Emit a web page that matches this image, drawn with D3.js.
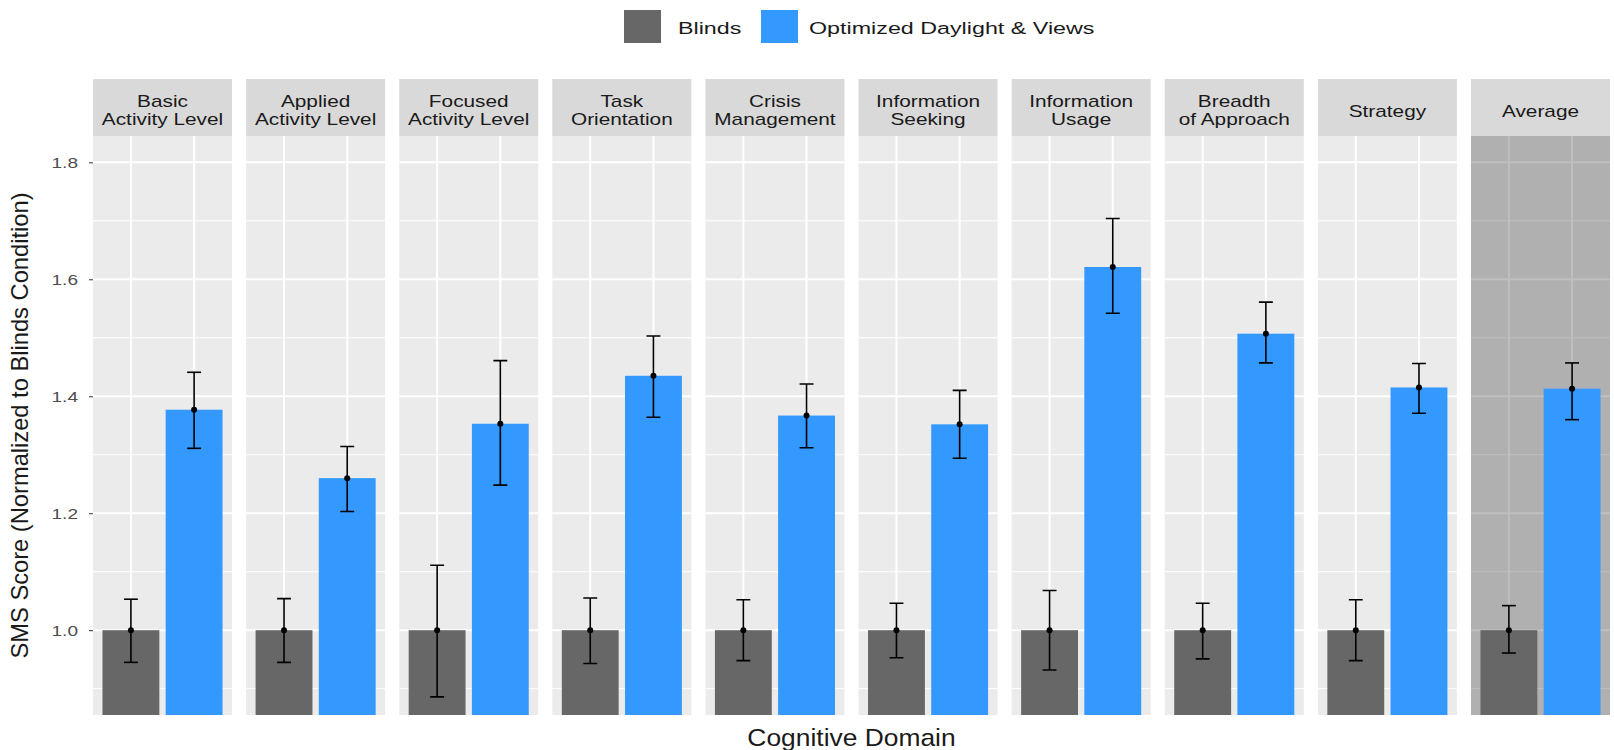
<!DOCTYPE html>
<html>
<head>
<meta charset="utf-8">
<script src="https://cdn.jsdelivr.net/npm/d3@7"></script>
<style>
  body { margin: 0; background: #fff; }
  svg { display: block; }
  text { font-family: "Liberation Sans", Arial, sans-serif; }
</style>
</head>
<body>
<svg id="chart" width="1614" height="750"></svg>
<script>
// Cognitive domains (facets); "\n" splits the strip label onto two lines
const domains = [
  "Basic\nActivity Level", "Applied\nActivity Level", "Focused\nActivity Level",
  "Task\nOrientation", "Crisis\nManagement", "Information\nSeeking",
  "Information\nUsage", "Breadth\nof Approach", "Strategy", "Average"
];
const conditions = ["Blinds", "Optimized Daylight & Views"];

// Blinds condition (normalized to 1) with error bar limits
const blindsMean = [1.0, 1.0, 1.0, 1.0, 1.0, 1.0, 1.0, 1.0, 1.0, 1.0];
const blindsLow  = [0.945, 0.945, 0.886, 0.943, 0.948, 0.953, 0.932, 0.951, 0.948, 0.961];
const blindsHigh = [1.053, 1.054, 1.111, 1.055, 1.052, 1.046, 1.068, 1.046, 1.052, 1.042];

// Optimized daylight & views condition
const optMean = [1.377, 1.260, 1.353, 1.435, 1.367, 1.352, 1.621, 1.507, 1.415, 1.413];
const optLow  = [1.311, 1.203, 1.248, 1.364, 1.312, 1.294, 1.542, 1.457, 1.371, 1.360];
const optHigh = [1.441, 1.314, 1.461, 1.503, 1.421, 1.410, 1.704, 1.561, 1.456, 1.457];

const yTicks = [1.0, 1.2, 1.4, 1.6, 1.8];
const yTickLabels = ["1.0", "1.2", "1.4", "1.6", "1.8"];
const yMinor = [0.9, 1.1, 1.3, 1.5, 1.7];
const yLimits = [0.9, 1.8];

const xTitle = "Cognitive Domain";
const yTitle = "SMS Score (Normalized to Blinds Condition)";
const highlighted = "Average";

// ---- layout ----
const svg = d3.select("#chart");
const stripTop = 79, panelTop = 136, panelBottom = 715;
const textColor = "#1a1a1a", tickColor = "#4d4d4d";
const sx = 1.3; // horizontal glyph stretch used for labels

const rows = domains.map((d, i) => ({
  domain: d,
  bars: [
    { cond: conditions[0], mean: blindsMean[i], lo: blindsLow[i], hi: blindsHigh[i] },
    { cond: conditions[1], mean: optMean[i],    lo: optLow[i],    hi: optHigh[i] }
  ]
}));

const pad = (yLimits[1] - yLimits[0]) * 0.05;
const y = d3.scaleLinear().domain([yLimits[0] - pad, yLimits[1] + pad]).range([panelBottom, panelTop]);

const panels = d3.scaleBand().domain(domains).range([93, 1610]).paddingInner(0.092).paddingOuter(0);
const pw = panels.bandwidth();
const x = d3.scaleBand().domain(conditions).range([0, pw]).paddingInner(0.1).paddingOuter(0.15);
const color = d3.scaleOrdinal().domain(conditions).range(["#676767", "#3399ff"]);

function stretchedText(sel, str, tx, ty, size, anchor, fill, stretch) {
  return sel.append("text")
    .attr("transform", `translate(${tx},${ty}) scale(${stretch},1)`)
    .attr("text-anchor", anchor)
    .style("font-size", size + "px")
    .attr("fill", fill)
    .text(str);
}

// ---- legend ----
const legend = svg.append("g");
const legendKeys = [624, 761], legendText = [678, 809];
conditions.forEach((c, i) => {
  legend.append("rect").attr("x", legendKeys[i]).attr("y", 10).attr("width", 37).attr("height", 33)
    .attr("fill", color(c));
  stretchedText(legend, c, legendText[i], 34, 17, "start", textColor, 1.37);
});

// ---- facets ----
rows.forEach((row, i) => {
  const g = svg.append("g").attr("transform", `translate(${panels(row.domain)},0)`);
  const clipId = "clip" + i;
  g.append("clipPath").attr("id", clipId)
    .append("rect").attr("x", 0).attr("y", panelTop).attr("width", pw).attr("height", panelBottom - panelTop);

  // strip
  g.append("rect").attr("x", 0).attr("y", stripTop).attr("width", pw).attr("height", panelTop - stripTop)
    .attr("fill", "#d9d9d9");
  const lines = row.domain.split("\n");
  const baseY = lines.length === 1 ? [117] : [107, 125];
  lines.forEach((ln, k) => stretchedText(g, ln, pw / 2, baseY[k], 16, "middle", textColor, sx));

  // panel background and grid
  g.append("rect").attr("x", 0).attr("y", panelTop).attr("width", pw).attr("height", panelBottom - panelTop)
    .attr("fill", "#ebebeb");
  g.selectAll(".minor").data(yMinor).join("line")
    .attr("x1", 0).attr("x2", pw).attr("y1", d => y(d)).attr("y2", d => y(d))
    .attr("stroke", "#fff").attr("stroke-width", 1);
  g.selectAll(".major").data(yTicks).join("line")
    .attr("x1", 0).attr("x2", pw).attr("y1", d => y(d)).attr("y2", d => y(d))
    .attr("stroke", "#fff").attr("stroke-width", 2);
  g.selectAll(".vgrid").data(conditions).join("line")
    .attr("x1", d => x(d) + x.bandwidth() / 2).attr("x2", d => x(d) + x.bandwidth() / 2)
    .attr("y1", panelTop).attr("y2", panelBottom)
    .attr("stroke", "#fff").attr("stroke-width", 2);

  if (row.domain === highlighted) {
    g.append("rect").attr("x", 0).attr("y", panelTop).attr("width", pw).attr("height", panelBottom - panelTop)
      .attr("fill", "#000").attr("opacity", 0.25);
  }

  const marks = g.append("g").attr("clip-path", `url(#${clipId})`);
  // bars start at zero and are clipped to the panel
  marks.selectAll(".bar").data(row.bars).join("rect")
    .attr("x", d => x(d.cond)).attr("width", x.bandwidth())
    .attr("y", d => y(d.mean)).attr("height", d => y(0) - y(d.mean))
    .attr("fill", d => color(d.cond));

  const capHalf = x.step() * 0.11;
  const eb = marks.selectAll(".eb").data(row.bars).join("g")
    .attr("transform", d => `translate(${x(d.cond) + x.bandwidth() / 2},0)`);
  eb.append("line").attr("y1", d => y(d.lo)).attr("y2", d => y(d.hi))
    .attr("stroke", "#000").attr("stroke-width", 1.6);
  eb.append("line").attr("x1", -capHalf).attr("x2", capHalf).attr("y1", d => y(d.hi)).attr("y2", d => y(d.hi))
    .attr("stroke", "#000").attr("stroke-width", 1.6);
  eb.append("line").attr("x1", -capHalf).attr("x2", capHalf).attr("y1", d => y(d.lo)).attr("y2", d => y(d.lo))
    .attr("stroke", "#000").attr("stroke-width", 1.6);
  eb.append("circle").attr("cy", d => y(d.mean)).attr("r", 3).attr("fill", "#000");
});

// ---- y axis ----
const axisX = panels(domains[0]);
const yAxis = d3.axisLeft(y).tickValues(yTicks).tickFormat((d, i) => yTickLabels[i]).tickSize(4).tickPadding(4);
const ax = svg.append("g").attr("transform", `translate(${axisX},0)`).call(yAxis);
ax.select(".domain").remove();
ax.selectAll(".tick line").attr("stroke", "#333");
ax.selectAll(".tick text").remove();
yTicks.forEach((t, i) => {
  stretchedText(svg, yTickLabels[i], axisX - 15, y(t) + 5.5, 15, "end", tickColor, 1.27);
});

// ---- axis titles ----
stretchedText(svg, xTitle, (panels(domains[0]) + panels(domains[domains.length - 1]) + pw) / 2, 746, 24, "middle", textColor, 1.1);
svg.append("text")
  .attr("transform", `translate(28,${(panelTop + panelBottom) / 2}) rotate(-90)`)
  .attr("text-anchor", "middle")
  .style("font-size", "23.7px")
  .attr("fill", textColor)
  .text(yTitle);
</script>
</body>
</html>
